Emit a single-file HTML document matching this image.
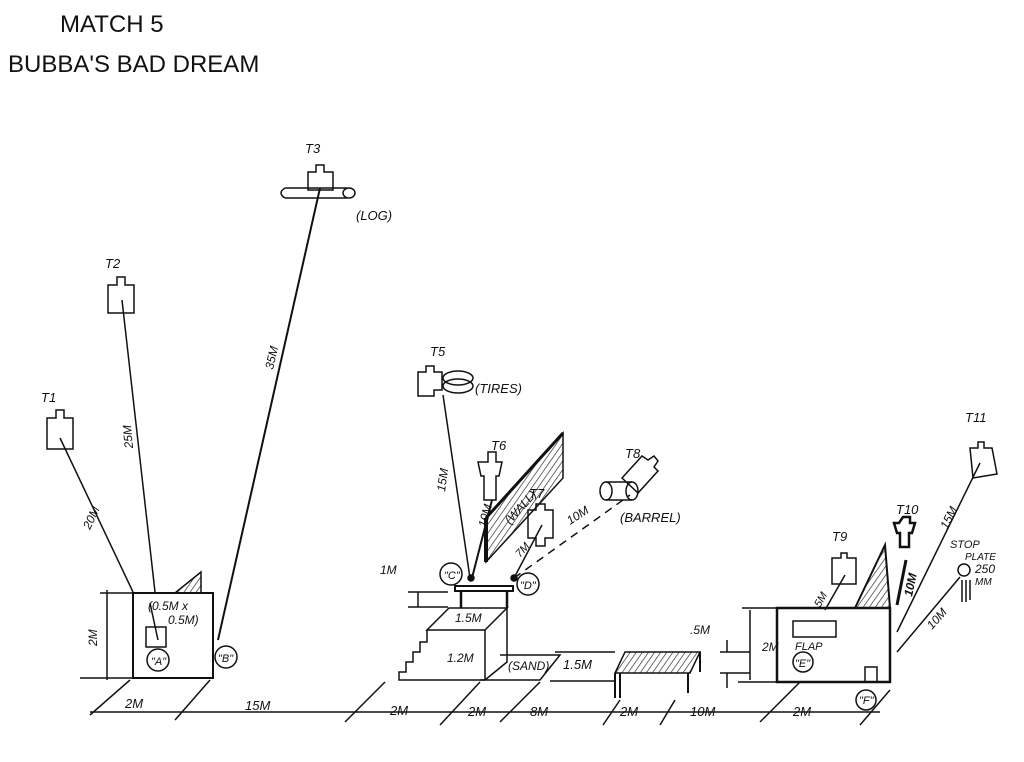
<!DOCTYPE html>
<html><head><meta charset="utf-8"><style>
html,body{margin:0;padding:0;background:#fff;}
svg{display:block;}
text{font-family:"Liberation Sans",sans-serif;fill:#111;}
</style></head><body>
<svg width="1024" height="762" viewBox="0 0 1024 762" xmlns="http://www.w3.org/2000/svg">
<defs>
<pattern id="h" width="5" height="5" patternUnits="userSpaceOnUse" patternTransform="rotate(35)"><line x1="0" y1="0" x2="0" y2="5" stroke="#222" stroke-width="1.3"/></pattern>
</defs>
<text x="60" y="32" font-size="24">MATCH  5</text>
<text x="8" y="72" font-size="24">BUBBA'S BAD DREAM</text>

<g stroke="#111" stroke-width="1.5" fill="none">
<path d="M47,418 h9 v-8 h8 v8 h9 v31 h-26 z"/>
<path d="M108,285 h9 v-8 h8 v8 h9 v28 h-26 z"/>
<path d="M308,172 h8 v-7 h8 v7 h9 v18 h-25 z"/>
<path d="M285,188 h62 M285,198 h62 M285,188 q-8,5 0,10"/>
<ellipse cx="349" cy="193" rx="6" ry="5"/>
<line x1="60" y1="438" x2="133" y2="592"/>
<line x1="122" y1="300" x2="155" y2="592"/>
<line x1="320" y1="188" x2="218" y2="640" stroke-width="2"/>
<rect x="133" y="593" width="80" height="85" stroke-width="2"/>
<path d="M175,593 L201,572 V593" fill="url(#h)"/>
<rect x="146" y="627" width="20" height="20"/>
<circle cx="158" cy="660" r="11"/>
<circle cx="226" cy="657" r="11"/>
<path d="M150,603 L158,640"/>
<path d="M100,593 h35 M80,678 h55 M107,590 v90"/>
<path d="M418,372 h8 v-6 h8 v6 h8 v18 h-8 v6 h-16 z"/>
<ellipse cx="458" cy="378" rx="15" ry="7"/>
<ellipse cx="458" cy="386" rx="15" ry="7"/>
<line x1="443" y1="395" x2="470" y2="578"/>
<path d="M488,452 h8 v10 h6 l-3,14 h-3 v24 h-12 v-24 h-3 l-3,-14 h10 z"/>
<line x1="492" y1="500" x2="472" y2="578" stroke-width="2"/>
<path d="M486,518 L563,433 V478 L486,562 Z" fill="url(#h)"/>
<line x1="486" y1="518" x2="486" y2="562" stroke-width="4"/>
<line x1="486" y1="518" x2="563" y2="433" stroke-width="3"/>
<path d="M528,510 h8 v-6 h9 v6 h8 v28 h-8 v8 h-9 v-8 h-8 z"/>
<line x1="542" y1="525" x2="514" y2="578"/>
<path d="M622,478 l20,-22 l6,4 l6,-4 l4,5 l-4,6 l4,4 l-20,22 z"/>
<ellipse cx="606" cy="491" rx="6" ry="9"/>
<path d="M606,482 h26 M606,500 h26"/>
<ellipse cx="632" cy="491" rx="6" ry="9"/>
<line x1="514" y1="578" x2="630" y2="495" stroke-dasharray="8,6"/>
<circle cx="471" cy="578" r="3" fill="#111"/>
<circle cx="514" cy="578" r="3" fill="#111"/>
<circle cx="451" cy="574" r="11"/>
<circle cx="528" cy="584" r="11"/>
<rect x="455" y="586" width="58" height="5" stroke-width="2"/>
<path d="M461,591 v17 M507,591 v17" stroke-width="2.5"/>
<path d="M449,608 H507 L485,630 H427 Z"/>
<path d="M485,630 V680 M507,608 V662 L485,680"/>
<path d="M427,630 V642 h-7 v10 h-7 v10 h-7 v10 h-7 v8 H485"/>
<path d="M500,655 H560 L540,680 H480"/>
<path d="M408,592 h40 M418,592 v15 M408,607 h40"/>
<path d="M625,652 H700 L690,673 H615 Z" fill="url(#h)"/>
<path d="M615,673 v25 M620,673 v25 M688,673 v20 M700,652 v20" stroke-width="2"/>
<path d="M555,652 h60 M550,681 h65 M720,652 h30 M720,673 h30 M727,640 v12 M727,673 v15"/>
<rect x="777" y="608" width="113" height="74" stroke-width="2.5"/>
<path d="M855,608 L885,545 L890,608" fill="url(#h)" stroke-width="2"/>
<rect x="793" y="621" width="43" height="16"/>
<circle cx="803" cy="662" r="10"/>
<path d="M865,682 v-15 h12 v15"/>
<circle cx="866" cy="700" r="10"/>
<path d="M742,608 h35 M738,682 h40 M750,610 v70"/>
<path d="M832,558 h9 v-5 h6 v5 h9 v26 h-24 z"/>
<line x1="845" y1="575" x2="825" y2="610"/>
<path d="M903,517 h7 v6 h5 l-3,10 h-3 v14 h-9 v-14 h-3 l-3,-10 h5 z" stroke-width="2.5"/>
<line x1="906" y1="560" x2="897" y2="605" stroke-width="3"/>
<path d="M970,448 h8 v-6 h6 v6 h8 l5,26 l-24,4 z"/>
<line x1="980" y1="463" x2="897" y2="632"/>
<circle cx="964" cy="570" r="6"/>
<line x1="960" y1="577" x2="897" y2="652"/>
<path d="M962,580 v22 M966,580 v22 M970,580 v20"/>
<line x1="90" y1="712" x2="880" y2="712"/>
<path d="M90,715 L130,680 M175,720 L210,680 M345,722 L385,682 M440,725 L480,682 M500,722 L540,682 M603,725 L620,700 M660,725 L675,700 M760,722 L800,682 M860,725 L890,690"/>
</g>
<g font-size="13" font-style="italic">
<text x="41" y="402">T1</text>
<text x="105" y="268">T2</text>
<text x="305" y="153">T3</text>
<text x="356" y="220">(LOG)</text>
<text x="430" y="356">T5</text>
<text x="475" y="393">(TIRES)</text>
<text x="491" y="450">T6</text>
<text x="529" y="498">T7</text>
<text x="625" y="458">T8</text>
<text x="620" y="522">(BARREL)</text>
<text x="832" y="541">T9</text>
<text x="896" y="514">T10</text>
<text x="965" y="422">T11</text>
<text x="950" y="548" font-size="11">STOP</text>
<text x="965" y="560" font-size="10">PLATE</text>
<text x="975" y="573" font-size="12">250</text>
<text x="975" y="585" font-size="10">MM</text>
<text x="148" y="610" font-size="12">(0.5M x</text>
<text x="168" y="624" font-size="12">0.5M)</text>
<text x="151" y="665" font-size="11">"A"</text>
<text x="218" y="662" font-size="11">"B"</text>
<text x="444" y="579" font-size="11">"C"</text>
<text x="520" y="589" font-size="11">"D"</text>
<text x="795" y="667" font-size="11">"E"</text>
<text x="859" y="704" font-size="11">"F"</text>
<text x="795" y="650" font-size="11">FLAP</text>
<text x="508" y="670" font-size="12">(SAND)</text>
<text x="380" y="574" font-size="12">1M</text>
<text x="455" y="622" font-size="12">1.5M</text>
<text x="447" y="662" font-size="12">1.2M</text>
<text x="563" y="669" font-size="13">1.5M</text>
<text x="690" y="634" font-size="12">.5M</text>
<text x="762" y="651" font-size="12">2M</text>
<text font-size="12" transform="translate(97,646) rotate(-90)">2M</text>
<text x="125" y="708" font-size="13">2M</text>
<text x="245" y="710" font-size="13">15M</text>
<text x="390" y="715" font-size="13">2M</text>
<text x="468" y="716" font-size="13">2M</text>
<text x="530" y="716" font-size="13">8M</text>
<text x="620" y="716" font-size="13">2M</text>
<text x="690" y="716" font-size="13">10M</text>
<text x="793" y="716" font-size="13">2M</text>
<text font-size="12" transform="translate(90,530) rotate(-65)">20M</text>
<text font-size="12" transform="translate(133,448) rotate(-95)">25M</text>
<text font-size="12" transform="translate(273,370) rotate(-77)">35M</text>
<text font-size="12" transform="translate(445,492) rotate(-82)">15M</text>
<text font-size="12" transform="translate(486,528) rotate(-75)">10M</text>
<text font-size="12" transform="translate(510,525) rotate(-48)">(WALL)</text>
<text font-size="11" transform="translate(520,558) rotate(-48)">7M</text>
<text font-size="12" transform="translate(570,525) rotate(-33)">10M</text>
<text font-size="11" transform="translate(820,608) rotate(-60)">5M</text>
<text font-size="12" font-weight="bold" transform="translate(912,597) rotate(-78)">10M</text>
<text font-size="12" transform="translate(947,530) rotate(-63)">15M</text>
<text font-size="12" transform="translate(932,630) rotate(-48)">10M</text>
</g>
</svg>
</body></html>
